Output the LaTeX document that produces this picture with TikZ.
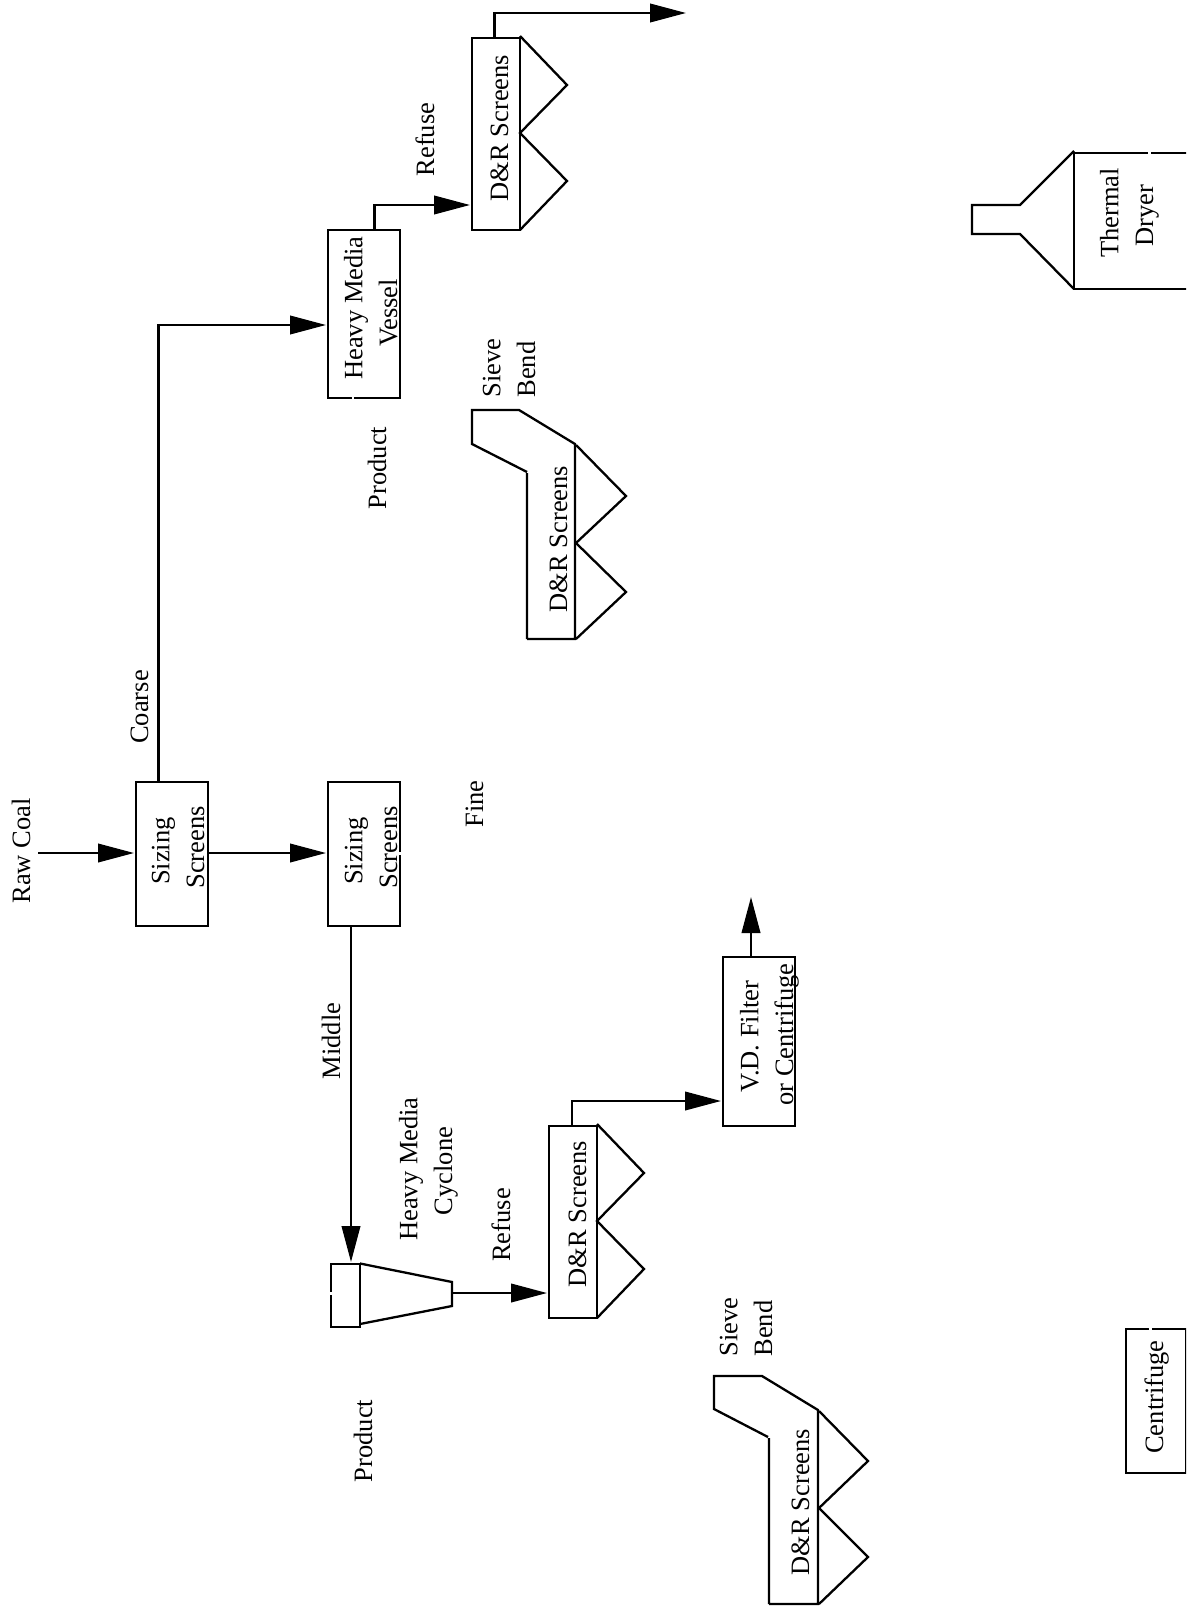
\documentclass[tikz,border=0pt]{standalone}
\usepackage{fontspec}
\setmainfont{Liberation Serif}
\usetikzlibrary{arrows.meta}
\tikzset{
  unit/.style={draw,rectangle,inner sep=0pt,outer sep=0pt,line width=2.3pt,minimum width=#1},
  unit/.default=72pt,
  lbl/.style={rotate=90,anchor=base,inner sep=0pt,align=center,font=\fontsize{26.5}{34.7}\selectfont},
  flow/.style={line width=2.3pt,-{Triangle[length=36pt,width=18.5pt]},shorten >=2pt},
  outline/.style={line width=2.3pt,line join=miter},
  gap/.style={white,line width=3pt},
}
\begin{document}
\begin{tikzpicture}[x=1pt,y=-1pt]
\clip (0,0) rectangle (1186,1608);
% boxes
\node[unit,minimum height=144pt] (sz1) at (172,854) {};
\node[unit,minimum height=144pt] (sz2) at (364,854) {};
\node[unit,minimum height=168pt] (hmv) at (364,314) {};
\node[unit=48pt,minimum height=192pt] (dr1) at (496,134) {};
\node[unit=48pt,minimum height=192pt] (dr2) at (573,1222) {};
\node[unit=29pt,minimum height=63pt] (cyc) at (345.5,1295.5) {};
\node[unit,minimum height=169pt] (vd) at (759,1041.5) {};
\node[unit=120pt,minimum height=136pt] (dryer) at (1134,221) {};
\node[unit=60pt,minimum height=144pt] (cen) at (1156,1401) {};
% free ends
\coordinate (feed) at (38,853);
\coordinate (out1) at (688,13);
\coordinate (out2) at (751,895);
\coordinate (cycout) at (452,1293);
% connectors
\draw[flow] (feed) -- ([yshift=1pt]sz1.west);
\draw[flow] ([yshift=1pt]sz1.east) -- ([yshift=1pt]sz2.west);
\draw[flow] ([xshift=-13.5pt]sz1.north) |- ([yshift=-11pt]hmv.west);
\draw[flow] ([xshift=-13pt]sz2.south) -- ([xshift=-13pt]cyc.north -| sz2.south);
\draw[flow] ([xshift=10.5pt]hmv.north) |- ([yshift=-71pt]dr1.west);
\draw[flow] ([xshift=-1.5pt]dr1.north) |- (out1);
\draw[flow] (cycout) -- (cycout -| dr2.west);
\draw[flow] ([xshift=-1pt]dr2.north) |- ([yshift=-59.5pt]vd.west);
\draw[flow] ([xshift=-8pt]vd.north) -- (out2);
% D&R screen hoppers
\draw[outline] (520,36) -- (567,85) -- (520,133) -- (567,181) -- (520,230);
\draw[outline] (597,1124) -- (644,1173) -- (597,1221) -- (644,1269) -- (597,1318);
% cyclone cone
\draw[outline] (360,1263.5) -- (452,1282) -- (452,1306) -- (360,1324);
% sieve bend and screens
\draw[outline] (527,639) -- (527,473) (527,472) -- (472,444) -- (472,410) -- (519,410) -- (575,444) -- (575,639) -- (527,639);
\draw[outline] (576,445) -- (626,496) -- (576,543) -- (626,592) -- (576,639);
\draw[outline] (769,1604) -- (769,1438) (768,1437) -- (714,1409) -- (714,1376) -- (762,1376) -- (818,1410) -- (818,1604) -- (769,1604);
\draw[outline] (819,1411) -- (868,1461) -- (819,1508) -- (868,1557) -- (819,1604);
% dryer funnel
\draw[outline] (1074,151) -- (1020,205) -- (972,205) -- (972,234) -- (1020,234) -- (1074,289);
% small breaks in outlines
\draw[gap] (351.5,398) -- (354,398);
\draw[gap] (331,1291.5) -- (331,1294.5);
\draw[gap] (400,851.5) -- (400,854.5);
\draw[gap] (1147.5,153) -- (1150.5,153);
\draw[gap] (1148.5,1329) -- (1151.5,1329);
% labels
\node[lbl] (tRaw) at (30,851) {Raw Coal};
\node[lbl] (tCoarse) at (148,707) {Coarse};
\node[lbl] (tS1) at (204,851) {Sizing\\\mbox{}\kern7pt Screens};
\node[lbl] (tS2) at (397,851) {Sizing\\\mbox{}\kern7pt Screens};
\node[lbl] (tFine) at (483,804) {Fine};
\node[lbl] (tMid) at (340,1041) {Middle};
\node[lbl] (tRef1) at (434,139.5) {Refuse};
\node[lbl] (tDR1) at (508,128) {D\&R Screens};
\node[lbl] (tHMV) at (397,308) {Heavy Media\\Vessel\kern10pt};
\node[lbl] (tSB1) at (535,368) {Sieve\\Bend\kern3pt};
\node[lbl] (tProd1) at (386,468) {Product};
\node[lbl] (tDR3) at (567,539) {D\&R Screens};
\node[lbl] (tHMC) at (452,1169) {Heavy Media\\Cyclone\kern4pt};
\node[lbl] (tRef2) at (510,1225) {Refuse};
\node[lbl] (tDR2) at (586,1214) {D\&R Screens};
\node[lbl] (tProd2) at (372,1441) {Product};
\node[lbl] (tVD) at (793,1034.5) {V.D. Filter\kern4pt\\or Centrifuge};
\node[lbl] (tSB2) at (772,1327) {Sieve\\Bend\kern3pt};
\node[lbl] (tDR4) at (809,1502) {D\&R Screens};
\node[lbl] (tTD) at (1153,213) {Thermal\\Dryer\kern5pt};
\node[lbl] (tCen) at (1163,1397) {Centrifuge};
\end{tikzpicture}
\end{document}
